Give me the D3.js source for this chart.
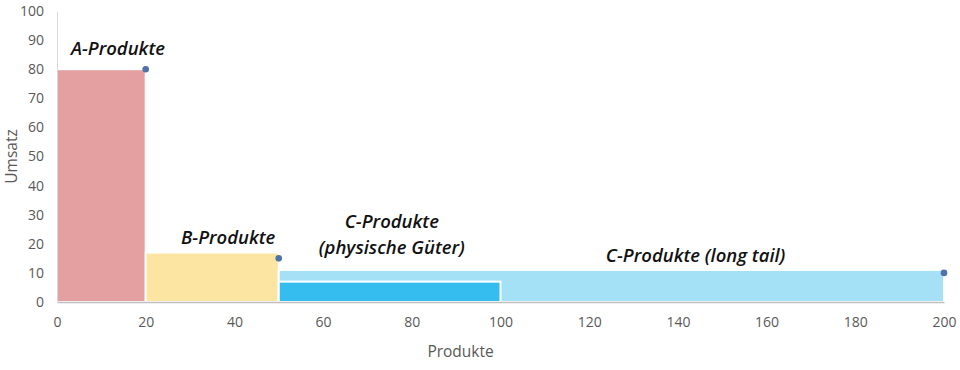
<!DOCTYPE html>
<html>
<head>
<meta charset="utf-8">
<script src="https://cdn.jsdelivr.net/npm/d3@7"></script>
<style>
	body { margin: 0; background: #fff; }
	.tick text { fill: #595959; font-family: "Open Sans", sans-serif; font-size: 14px; }
	.axisTitle { fill: #595959; font-family: "Open Sans", sans-serif; font-size: 15.5px; }
	.segLabel { fill: #111; font-family: "Open Sans", sans-serif; font-size: 18.5px; font-style: italic; font-weight: 600; }
</style>
</head>
<body>
<script>
//Segment data: start, end (products) and revenue
let segNames = ["A", "B", "C long tail", "C physisch"];
let segStart = [0, 20, 50, 50];
let segEnd = [20, 50, 200, 100];
let segValue = [80, 17, 11, 7];
let segColor = ["#E4A0A0", "#FCE5A2", "#A4E1F6", "#35BDF0"];

//Marker points
let pointX = [20, 50, 200];
let pointY = [80, 15, 10];

//Ticks
let xTicks = [0, 20, 40, 60, 80, 100, 120, 140, 160, 180, 200];
let yTicks = [0, 10, 20, 30, 40, 50, 60, 70, 80, 90, 100];

//Labels: text lines, x and y position in data units
let labelLines = [["A-Produkte"], ["B-Produkte"], ["C-Produkte", "(physische Güter)"], ["C-Produkte (long tail)"]];
let labelX = [13.75, 38.6, 75.5, 144];
let labelY = [85, 20, 25.4, 13.7];

window.onload = function(){
	let w = 960, h = 370;
	let margin = {top: 11, right: 16, bottom: 68, left: 57};

	let svg = d3.select("body")
		.append("svg")
		.attr("width", w)
		.attr("height", h);

	let x = d3.scaleLinear()
		.domain([0, 200])
		.range([margin.left, w - margin.right]);

	let y = d3.scaleLinear()
		.domain([0, 100])
		.range([h - margin.bottom, margin.top]);

	//Bars (white stroke makes the small gaps)
	svg.selectAll(".seg")
		.data(segNames)
		.enter()
		.append("rect")
		.attr("class", "seg")
		.attr("x", (d, i) => x(segStart[i]))
		.attr("width", (d, i) => x(segEnd[i]) - x(segStart[i]))
		.attr("y", (d, i) => y(segValue[i]))
		.attr("height", (d, i) => y(0) - y(segValue[i]))
		.style("fill", (d, i) => segColor[i])
		.style("stroke", "#fff")
		.style("stroke-width", 2);

	//Axes
	let xAxis = svg.append("g")
		.attr("transform", "translate(0," + y(0) + ")")
		.call(d3.axisBottom(x).tickValues(xTicks).tickSize(0).tickPadding(15));
	xAxis.select(".domain").style("stroke", "#bfbfbf").style("stroke-width", 1.5);

	let yAxis = svg.append("g")
		.attr("transform", "translate(" + x(0) + ",0)")
		.call(d3.axisLeft(y).tickValues(yTicks).tickSize(0).tickPadding(13));
	yAxis.select(".domain").style("stroke", "#d9d9d9");

	//Points
	svg.selectAll(".pt")
		.data(pointX)
		.enter()
		.append("circle")
		.attr("class", "pt")
		.attr("cx", d => x(d))
		.attr("cy", (d, i) => y(pointY[i]))
		.attr("r", 3.3)
		.style("fill", "#4F72A8");

	//Segment labels
	let labels = svg.selectAll(".segLabel")
		.data(labelLines)
		.enter()
		.append("text")
		.attr("class", "segLabel")
		.attr("text-anchor", "middle")
		.attr("y", (d, i) => y(labelY[i]));

	labels.selectAll("tspan")
		.data((d, i) => d.map(t => ({t: t, i: i})))
		.enter()
		.append("tspan")
		.attr("x", d => x(labelX[d.i]))
		.attr("dy", (d, j) => j === 0 ? 0 : 26)
		.text(d => d.t);

	//Axis titles
	svg.append("text")
		.attr("class", "axisTitle")
		.attr("text-anchor", "middle")
		.attr("transform", "translate(17," + y(50) + ") rotate(-90)")
		.text("Umsatz");

	svg.append("text")
		.attr("class", "axisTitle")
		.attr("text-anchor", "middle")
		.attr("x", x(91))
		.attr("y", 357)
		.text("Produkte");
};
</script>
</body>
</html>
